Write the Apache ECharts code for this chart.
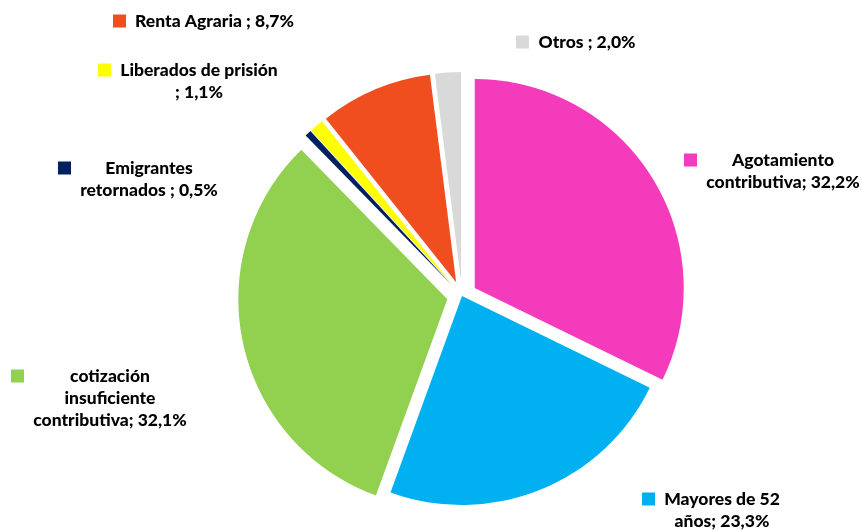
<!DOCTYPE html>
<html><head><meta charset="utf-8">
<script src="https://cdn.jsdelivr.net/npm/echarts@6/dist/echarts.min.js"></script>
<style>html,body{margin:0;padding:0;background:#fff}#c{width:862px;height:531px}</style>
</head><body><div id="c"></div>
<script>
const categories = ['Agotamiento contributiva', 'Mayores de 52 años', 'cotización insuficiente contributiva', 'Emigrantes retornados', 'Liberados de prisión', 'Renta Agraria', 'Otros'];
const values = [32.2, 23.3, 32.1, 0.5, 1.1, 8.7, 2.0];
// label text lines; the value is appended to the last line
const labelLines = [
  ['Agotamiento', 'contributiva;'],
  ['Mayores de 52', 'años;'],
  ['cotización', 'insuficiente', 'contributiva;'],
  ['Emigrantes', 'retornados ;'],
  ['Liberados de prisión', ';'],
  ['Renta Agraria ;'],
  ['Otros ;']
];
const colors = ['#F33BBB', '#00B0F0', '#92D050', '#002060', '#FFFF00', '#F04E1E', '#D9D9D9'];
const exploded = [true, false, true, true, true, true, true];
// layout: label anchor = left edge of key square, vertical middle of first line
const labelAnchor = [[684,160],[642,499],[11,376],[58,168],[98,70],[113,21],[516,42]];

const FONT_SIZE = 17.5, FONT_FAMILY = 'Lato', FONT_WEIGHT = 900, LH = 22, SQ = 13, GAP = 8;
const ctx = document.createElement('canvas').getContext('2d');
ctx.font = FONT_WEIGHT + ' ' + FONT_SIZE + 'px ' + FONT_FAMILY;

function pct(v){ return v.toFixed(1).replace('.', ',') + '%'; }

const pieData = values.map((v, i) => ({
  name: categories[i], value: v, selected: exploded[i],
  itemStyle: { color: colors[i] }
}));

const labelData = values.map((v, i) => {
  const lines = labelLines[i].slice();
  lines[lines.length - 1] = lines[lines.length - 1] + ' ' + pct(v);
  const W = Math.ceil(Math.max(...lines.map(l => ctx.measureText(l).width))) + 2;
  const fmt = lines.map((l, j) => (j === 0 ? '{sq|}{gap|}' : '{pad|}') + '{t|' + l + '}').join('\n');
  return {
    name: categories[i], value: v,
    label: {
      formatter: fmt,
      rich: {
        sq: { width: SQ, height: SQ, backgroundColor: colors[i], verticalAlign: 'middle', lineHeight: LH },
        gap: { width: GAP, lineHeight: LH },
        pad: { width: SQ + GAP, lineHeight: LH },
        t: { width: W, align: 'center', verticalAlign: 'middle', fontSize: FONT_SIZE, fontWeight: FONT_WEIGHT, fontFamily: FONT_FAMILY, color: '#000', lineHeight: LH }
      }
    }
  };
});

const chart = echarts.init(document.getElementById('c'), null, { renderer: 'canvas' });
chart.setOption({
  animation: false,
  backgroundColor: '#fff',
  series: [{
    type: 'pie',
    center: [462, 296],
    radius: 209,
    startAngle: 90,
    clockwise: true,
    selectedMode: 'multiple',
    selectedOffset: 15,
    itemStyle: { borderWidth: 0 },
    emphasis: { disabled: true },
    label: { show: false },
    labelLine: { show: false },
    data: pieData
  }, {
    type: 'pie',
    center: [462, 296],
    radius: 209,
    startAngle: 90,
    clockwise: true,
    silent: true,
    avoidLabelOverlap: false,
    itemStyle: { color: 'rgba(0,0,0,0)', borderWidth: 0 },
    emphasis: { disabled: true },
    label: { show: true, position: 'outside', color: '#000', fontFamily: FONT_FAMILY, fontWeight: FONT_WEIGHT, fontSize: FONT_SIZE },
    labelLine: { show: false },
    labelLayout: function (p) {
      const a = labelAnchor[p.dataIndex];
      return { x: a[0], y: a[1] - LH / 2, align: 'left', verticalAlign: 'top' };
    },
    data: labelData
  }]
});
</script>
</body></html>
